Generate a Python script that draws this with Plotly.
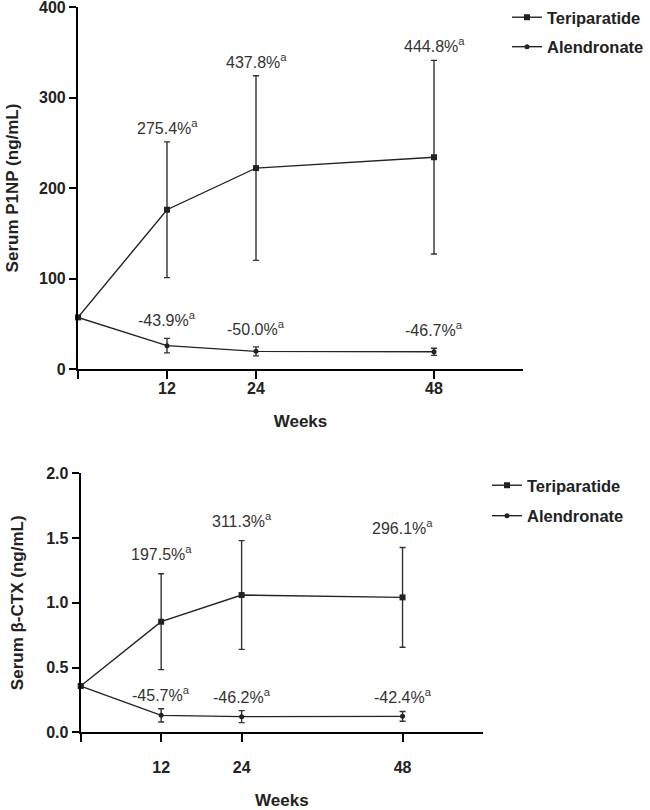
import plotly.graph_objects as go

weeks = [0, 12, 24, 48]
tick_vals = [0, 12, 24, 48]
tick_text = ["", "12", "24", "48"]

# Top panel: Serum P1NP (ng/mL)
p1np_teri = [57, 176, 222, 234]
p1np_teri_sd = [None, 75, 102, 107]
p1np_alen = [57, 25.8, 19.5, 19]
p1np_alen_sd = [None, 8, 5, 4]
p1np_teri_lbl = ["", "275.4%", "437.8%", "444.8%"]
p1np_alen_lbl = ["", "-43.9%", "-50.0%", "-46.7%"]

# Bottom panel: Serum beta-CTX (ng/mL)
ctx_teri = [0.357, 0.854, 1.06, 1.042]
ctx_teri_sd = [None, 0.37, 0.42, 0.385]
ctx_alen = [0.357, 0.131, 0.121, 0.123]
ctx_alen_sd = [None, 0.051, 0.046, 0.038]
ctx_teri_lbl = ["", "197.5%", "311.3%", "296.1%"]
ctx_alen_lbl = ["", "-45.7%", "-46.2%", "-42.4%"]

FONT = "Liberation Sans, Arial, sans-serif"
INK = "#222222"
TXT = "#333333"
W, H = 650, 810

fig = go.Figure()

def add_series(x, y, sd, name, symbol, size, xa, ya, legend, group, show):
    fig.add_trace(go.Scatter(
        x=x, y=y, name=name, mode="lines+markers",
        xaxis=xa, yaxis=ya, legend=legend, legendgroup=group,
        showlegend=show, cliponaxis=False,
        line=dict(color=INK, width=1.4),
        marker=dict(symbol=symbol, size=size, color=INK),
        error_y=dict(type="data", array=sd, visible=True,
                     color="#333333", thickness=1.4, width=3),
    ))

add_series(weeks, p1np_teri, p1np_teri_sd, "Teriparatide", "square", 6, "x", "y", "legend", "t1", True)
add_series(weeks, p1np_alen, p1np_alen_sd, "Alendronate", "circle", 5, "x", "y", "legend", "a1", True)
add_series(weeks, ctx_teri, ctx_teri_sd, "Teriparatide", "square", 6, "x2", "y2", "legend2", "t2", True)
add_series(weeks, ctx_alen, ctx_alen_sd, "Alendronate", "circle", 5, "x2", "y2", "legend2", "a2", True)

annotations = []
def add_labels(x, y, sd, labels, xref, yref, shift):
    for xi, yi, si, lab in zip(x, y, sd, labels):
        if not lab:
            continue
        annotations.append(dict(
            x=xi, y=yi + si, xref=xref, yref=yref,
            text=lab + "<sup>a</sup>", showarrow=False,
            yanchor="middle", xanchor="center", yshift=shift,
            font=dict(family=FONT, size=16, color=TXT),
        ))

add_labels(weeks, p1np_teri, p1np_teri_sd, p1np_teri_lbl, "x", "y", 15)
add_labels(weeks, p1np_alen, p1np_alen_sd, p1np_alen_lbl, "x", "y", 19)
add_labels(weeks, ctx_teri, ctx_teri_sd, ctx_teri_lbl, "x2", "y2", 21)
add_labels(weeks, ctx_alen, ctx_alen_sd, ctx_alen_lbl, "x2", "y2", 15)

tickfont = dict(family=FONT, size=16, color=INK, weight="bold")
titlefont = dict(family=FONT, size=17, color=INK, weight="bold")
legfont = dict(family=FONT, size=16.5, color=INK, weight="bold")

def xaxis(domain, anchor, standoff_lbl, title_standoff):
    return dict(
        domain=domain, anchor=anchor, range=[0, 60],
        tickmode="array", tickvals=tick_vals, ticktext=tick_text,
        showline=True, linecolor="black", linewidth=2.2,
        ticks="outside", ticklen=8, tickwidth=2.2, tickcolor="black",
        ticklabelstandoff=standoff_lbl, ticklabeloverflow="allow",
        showgrid=False, zeroline=False, tickfont=tickfont,
        title=dict(text="Weeks", font=titlefont, standoff=title_standoff),
        automargin=False,
    )

def yaxis(domain, anchor, rng, dtick, fmt, title, standoff):
    return dict(
        domain=domain, anchor=anchor, range=rng, dtick=dtick, tick0=0,
        tickformat=fmt, ticklabeloverflow="allow",
        showline=True, linecolor="black", linewidth=2.2,
        ticks="outside", ticklen=7, tickwidth=2.2, tickcolor="black",
        showgrid=False, zeroline=False, tickfont=tickfont,
        title=dict(text=title, font=titlefont, standoff=standoff),
        automargin=False,
    )

fig.update_layout(
    width=W, height=H,
    margin=dict(l=0, r=0, t=0, b=0),
    paper_bgcolor="white", plot_bgcolor="white",
    font=dict(family=FONT, color=INK),
    xaxis=xaxis([78 / W, 523 / W], "y", -4, 19),
    yaxis=yaxis([1 - 369 / H, 1 - 7 / H], "x", [0, 400], 100, "d", "Serum P1NP (ng/mL)", 16),
    xaxis2=xaxis([80.7 / W, 483 / W], "y2", 11, 33),
    yaxis2=yaxis([1 - 732.3 / H, 1 - 473.3 / H], "x2", [0, 2], 0.5, ".1f", "Serum β-CTX (ng/mL)", 18),
    legend=dict(x=507 / W, y=1, xanchor="left", yanchor="top",
                font=legfont, tracegroupgap=5, bgcolor="rgba(0,0,0,0)", itemwidth=30),
    legend2=dict(x=487 / W, y=1 - 468 / H, xanchor="left", yanchor="top",
                 font=legfont, tracegroupgap=6, bgcolor="rgba(0,0,0,0)", itemwidth=30),
    annotations=annotations,
    showlegend=True,
)

fig.write_html("out.html", post_script="document.body.style.margin='0';",
               config={"displayModeBar": False})
